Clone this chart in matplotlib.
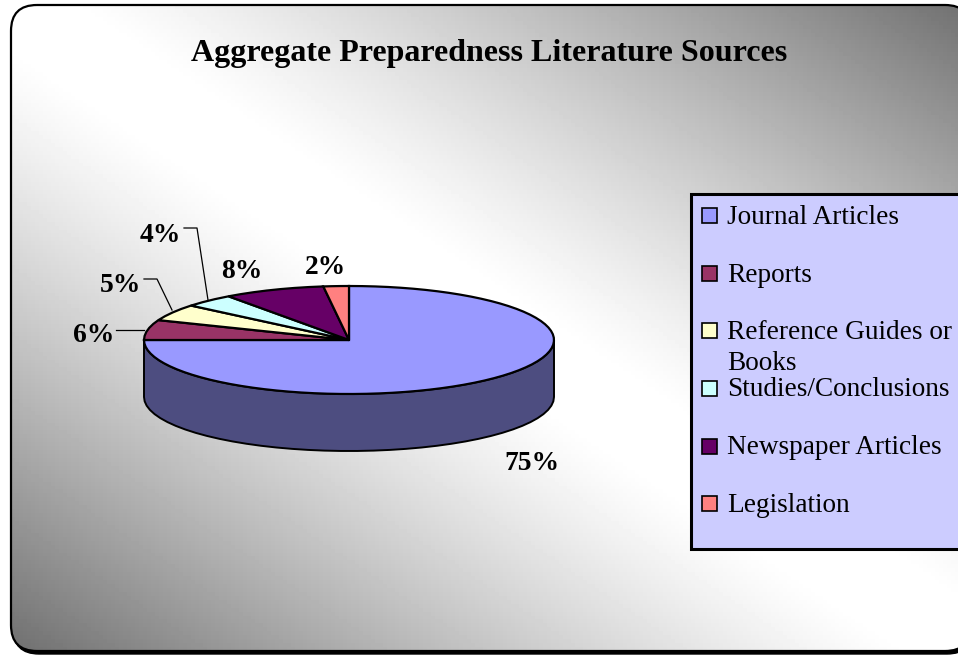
import numpy as np
import matplotlib
matplotlib.use("Agg")
import matplotlib.pyplot as plt
from matplotlib.patches import FancyBboxPatch, Polygon, Rectangle

categories = ["Journal Articles", "Reports", "Reference Guides or\nBooks",
              "Studies/Conclusions", "Newspaper Articles", "Legislation"]
values = [75, 6, 5, 4, 8, 2]
colors = ["#9999FF", "#993366", "#FFFFCC", "#CCFFFF", "#660066", "#FF8080"]
side_color = "#4D4D80"

plt.rcParams["font.family"] = ["Liberation Serif", "DejaVu Serif"]

W, H = 958, 655
fig = plt.figure(figsize=(W / 100, H / 100), dpi=100, facecolor="white")
ax = fig.add_axes([0, 0, 1, 1])
ax.axis("off")

# frame with a small drop shadow
box = dict(boxstyle="round,pad=0,rounding_size=26", mutation_scale=1)
shadow = FancyBboxPatch((13, 8), 960, 646, fc="black", ec="black", lw=1, zorder=1, **box)
ax.add_patch(shadow)
fill = FancyBboxPatch((11, 5), 960, 646, fc="white", ec="none", zorder=2, **box)
ax.add_patch(fill)
# flattened outline, agg mangles unfilled curves that run off the canvas
outline = fill.get_path().to_polygons(closed_only=True)[0]
ax.add_patch(Polygon(outline, fc="none", ec="black", lw=1.6, zorder=3))

# background: grey corners top right / bottom left, white along the other diagonal
xx, yy = np.meshgrid(np.linspace(0, 1, 240), np.linspace(0, 1, 164))
band = np.abs(xx - yy)
shade = 1 - 0.56 * np.clip((band - 0.06) / 0.94, 0, 1) ** 1.2
img = ax.imshow(shade, cmap="gray", vmin=0, vmax=1, extent=(11, 971, 651, 5),
                aspect="auto", zorder=2)
img.set_clip_path(fill)
ax.set_xlim(0, W)
ax.set_ylim(H, 0)

# pie
cx, cy, rx, ry, depth = 349, 340, 205, 54, 57


def ell(a):
    return cx + rx * np.cos(a), cy - ry * np.sin(a)


a = np.linspace(0, -np.pi, 40)
ex, ey = ell(a)
side = np.r_[np.c_[ex, ey], np.c_[ex[::-1], ey[::-1] + depth]]
ax.add_patch(Polygon(side, fc=side_color, ec="black", lw=1.4, zorder=4))

edges = 90 - 3.6 * np.cumsum([0] + values)
for i, c in enumerate(colors):
    t = np.radians(np.linspace(edges[i], edges[i + 1], max(values[i], 4)))
    px, py = ell(t)
    ax.add_patch(Polygon(np.r_[[[cx, cy]], np.c_[px, py]], fc=c, ec="black", lw=1.6,
                         joinstyle="miter", zorder=5))

# percent labels with their leader lines
label_xy = [(532, 464), (94, 336), (121, 286), (160, 235), (242, 271), (326, 268)]
for v, (x, y) in zip(values, label_xy):
    ax.text(x, y, f"{v}%", ha="center", va="center", fontsize=19.8, fontweight="bold", zorder=6)
ax.plot([116, 144], [330, 330], color="black", lw=0.9, zorder=6)
ax.plot([144, 157, 172], [279, 279, 310], color="black", lw=0.9, zorder=6)
ax.plot([184, 197, 208], [228, 228, 300], color="black", lw=0.9, zorder=6)

ax.text(489.5, 54, "Aggregate Preparedness Literature Sources", ha="center", va="center",
        fontsize=23, fontweight="bold", zorder=6)

# legend
ax.add_patch(Rectangle((691, 194), 280, 355, fc="#CCCCFF", ec="black", lw=2.2, zorder=4))
row_y = [216, 274, 331, 389, 447, 504]
for name, c, y in zip(categories, colors, row_y):
    ax.add_patch(Rectangle((702, y - 8), 15, 15, fc=c, ec="black", lw=1.2, zorder=5))
    if "\n" in name:
        ax.text(727, y + 17, name, ha="left", va="center", fontsize=19.6,
                linespacing=1.36, zorder=6)
    else:
        ax.text(727, y + 1, name, ha="left", va="center", fontsize=19.6, zorder=6)

fig.savefig("out.png", dpi=100)
